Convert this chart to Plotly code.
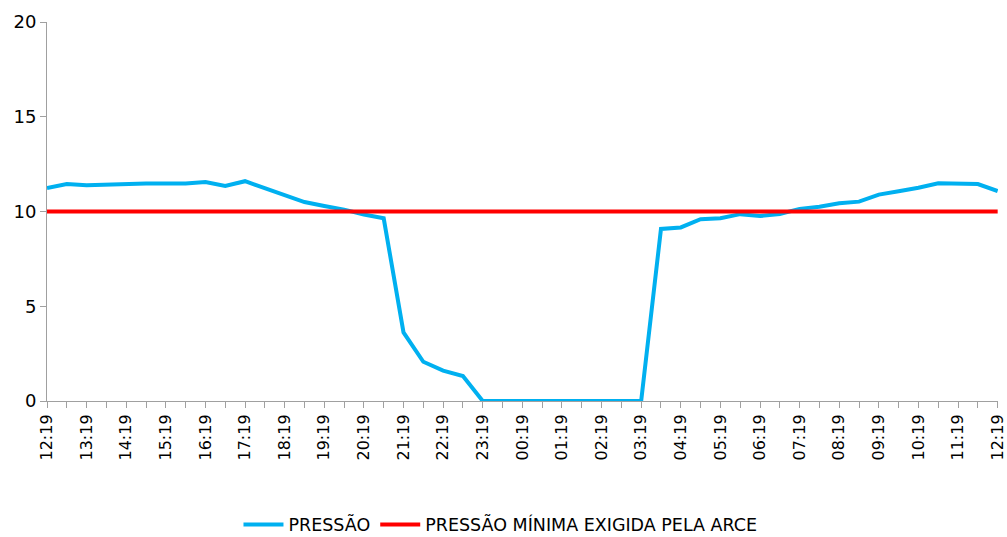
import plotly.graph_objects as go
from datetime import datetime, timedelta

start = datetime(2020, 1, 1, 12, 19)
times = [start + timedelta(minutes=30 * i) for i in range(49)]

pressao = [11.24, 11.45, 11.38, 11.43, 11.43, 11.48, 11.48, 11.48, 11.56, 11.35,
           11.60, 11.24, 10.87, 10.50, 10.29, 10.10, 9.84, 9.64, 3.62, 2.07,
           1.60, 1.32, 0, 0, 0, 0, 0, 0, 0, 0,
           0, 9.08, 9.16, 9.59, 9.64, 9.86, 9.76, 9.87, 10.14, 10.25,
           10.43, 10.52, 10.89, 11.07, 11.25, 11.49, 11.49, 11.45, 11.08]
minimo = [10] * len(times)

fig = go.Figure()
fig.add_trace(go.Scatter(x=times, y=pressao, mode="lines", name="PRESSÃO",
                         line=dict(color="#00B0F0", width=4)))
fig.add_trace(go.Scatter(x=times, y=minimo, mode="lines", name="PRESSÃO MÍNIMA EXIGIDA PELA ARCE",
                         line=dict(color="#FF0000", width=4)))

fig.update_layout(
    width=1007, height=537,
    margin=dict(l=47, r=9, t=22, b=136, autoexpand=False),
    paper_bgcolor="white", plot_bgcolor="white",
    font=dict(family="DejaVu Sans", size=16, color="#000000"),
    showlegend=True,
    legend=dict(orientation="h", xref="container", x=0.497, xanchor="center",
                yref="container", y=0.023, yanchor="middle",
                font=dict(size=17.5), itemwidth=40, tracegroupgap=0),
)
fig.update_xaxes(
    range=[times[0], times[-1] + timedelta(seconds=30)], automargin=False,
    tickformat="%H:%M", tickvals=times[::2],
    tickangle=-90, tickfont=dict(size=16),
    showline=True, linecolor="#A0A0A0", linewidth=1,
    ticks="outside", ticklen=6, tickcolor="#A0A0A0",
    minor=dict(dtick=1800000, tick0=times[0], ticks="outside", ticklen=6, tickcolor="#A0A0A0"),
    showgrid=False, zeroline=False,
)
fig.update_yaxes(
    range=[0, 20], dtick=5, tickfont=dict(size=18), automargin=False,
    showline=True, linecolor="#A0A0A0", linewidth=1,
    ticks="outside", ticklen=6, tickcolor="#A0A0A0",
    showgrid=False, zeroline=False,
)
fig.write_html("out.html", config={"displayModeBar": False},
               post_script="document.body.style.margin='0';document.body.style.overflow='hidden';")
